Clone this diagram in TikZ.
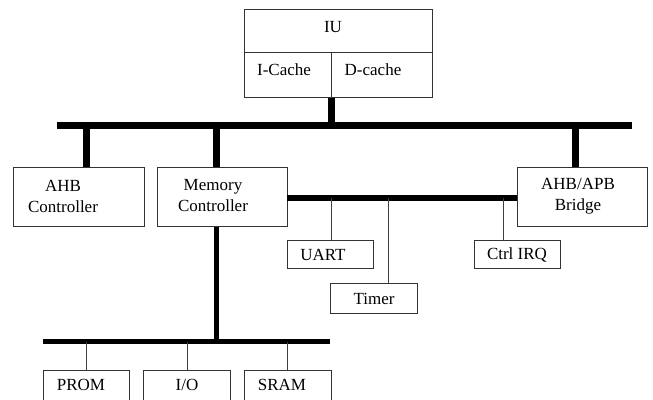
\documentclass[tikz,border=0pt]{standalone}
\usepackage{fontspec}
\setmainfont{Liberation Serif}
\begin{document}
\begin{tikzpicture}[x=1pt,y=-1pt,
  box/.style={draw=black!80,line width=1pt,inner sep=0pt,anchor=north west},
  txt/.style={inner sep=0pt,align=center,font=\fontsize{17}{21}\selectfont},
  mainbus/.style={line width=7pt,line cap=butt},
  apbbus/.style={line width=6pt,line cap=butt},
  membus/.style={line width=5pt,line cap=butt},
  tap/.style={line width=1pt,draw=black!75}]
\useasboundingbox (0,0) rectangle (653,399);
\clip (0,0) rectangle (653,399);
\fill[white] (0,0) rectangle (653,399);

% processor block
\node[box,minimum width=188pt,minimum height=43pt] (iu) at (244,9) {};
\node[box,minimum width=87pt,minimum height=45pt] (icache) at (244,52) {};
\node[box,minimum width=101pt,minimum height=45pt] (dcache) at (331,52) {};
\node[txt] (iut) at (333,27) {IU};
\node[txt] (ict) at (284,70) {I-Cache};
\node[txt] (dct) at (373,70) {D-cache};

% AHB masters/slaves
\node[box,minimum width=131pt,minimum height=59pt] (ahb) at (13,167) {};
\node[box,minimum width=130pt,minimum height=59pt] (mem) at (157,167) {};
\node[box,minimum width=130pt,minimum height=59pt] (bridge) at (517,167) {};
\node[txt] (ahbt) at (63,196) {AHB\\Controller};
\node[txt] (memt) at (213,196) {Memory\\Controller};
\node[txt] (bridget) at (578,196) {AHB/APB\\Bridge};

% APB peripherals
\node[box,minimum width=86pt,minimum height=28pt] (uart) at (287,240) {};
\node[box,minimum width=87pt,minimum height=30pt] (timer) at (330,283) {};
\node[box,minimum width=86pt,minimum height=28pt] (irq) at (474,240) {};
\node[txt] (uartt) at (323,255) {UART};
\node[txt] (timert) at (374,299) {Timer};
\node[txt] (irqt) at (517,255) {Ctrl IRQ};

% memory devices
\node[box,minimum width=86pt,minimum height=35pt] (prom) at (43,370) {};
\node[box,minimum width=87pt,minimum height=35pt] (io) at (143,370) {};
\node[box,minimum width=87pt,minimum height=35pt] (sram) at (244,370) {};
\node[txt] (promt) at (81,385) {PROM};
\node[txt] (iot) at (187,385) {I/O};
\node[txt] (sramt) at (282,385) {SRAM};

% AHB bus
\coordinate (ahbL) at (57,125);
\coordinate (ahbR) at (632,125);
\draw[mainbus] (ahbL) -- (ahbR);
\coordinate (tiu) at (331,125);
\coordinate (tahb) at (86,125);
\coordinate (tmem) at (216,125);
\coordinate (tbr) at (575,125);
\draw[line width=7pt] (tiu) -- (tiu |- icache.south);
\draw[line width=7pt] (tahb) -- (tahb |- ahb.north);
\draw[line width=7pt] (tmem) -- (tmem |- mem.north);
\draw[line width=7pt] (tbr) -- (tbr |- bridge.north);

% APB bus
\coordinate (apbL) at (287,198);
\coordinate (apbR) at (517,198);
\draw[apbbus] (apbL) -- (apbR);
\coordinate (tuart) at (331,198);
\coordinate (ttimer) at (388,198);
\coordinate (tirq) at (503,198);
\draw[tap] (tuart) -- (tuart |- uart.north);
\draw[tap] (ttimer) -- (ttimer |- timer.north);
\draw[tap] (tirq) -- (tirq |- irq.north);

% memory bus
\coordinate (mbL) at (43,341.5);
\coordinate (mbR) at (330,341.5);
\coordinate (mbm) at (216,341.5);
\draw[membus] (mbL) -- (mbR);
\draw[line width=5pt] (mbm |- mem.south) -- (mbm);
\coordinate (tprom) at (86,341.5);
\coordinate (tio) at (187,341.5);
\coordinate (tsram) at (287,341.5);
\draw[tap] (tprom) -- (tprom |- prom.north);
\draw[tap] (tio) -- (tio |- io.north);
\draw[tap] (tsram) -- (tsram |- sram.north);
\end{tikzpicture}
\end{document}
